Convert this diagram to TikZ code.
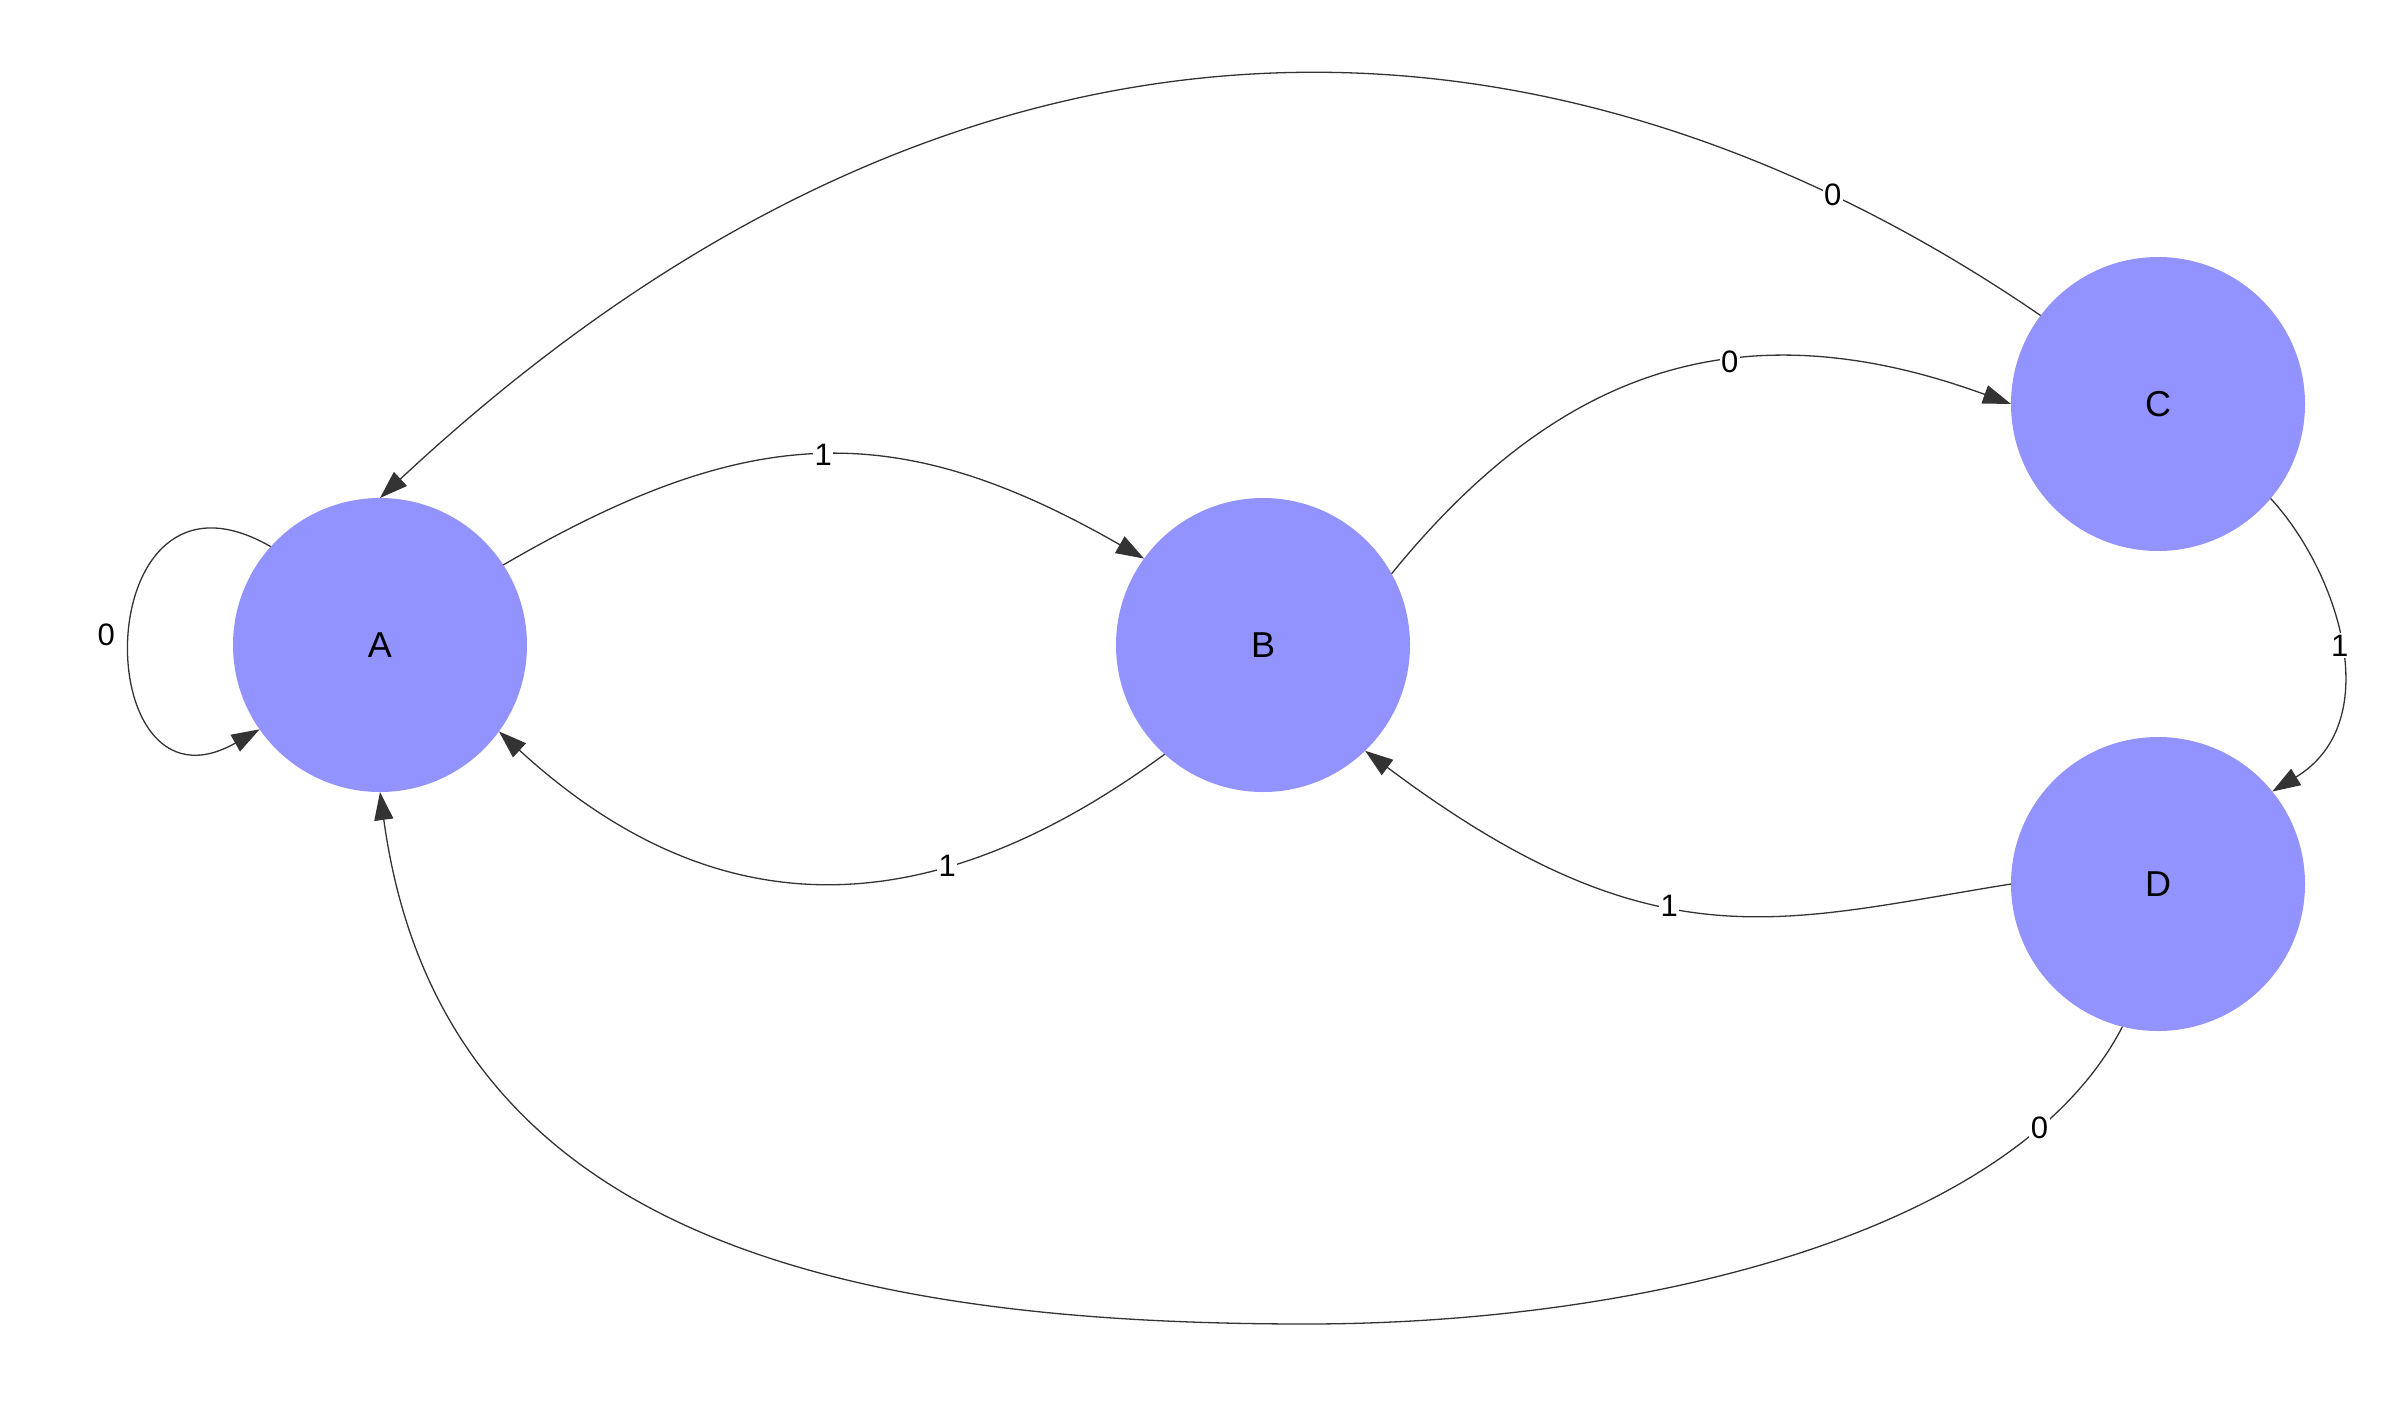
\documentclass[tikz,border=0pt]{standalone}
\usepackage{fontspec}
\setmainfont{Liberation Sans}
\usetikzlibrary{arrows.meta}
\definecolor{nodefill}{RGB}{147,147,255}
\definecolor{edgecol}{RGB}{51,51,51}
\begin{document}
\begin{tikzpicture}[x=1pt,y=-1pt,
  state/.style={circle, fill=nodefill, minimum size=294pt, inner sep=0pt, outer sep=0pt,
    font=\fontsize{36}{40}\selectfont},
  edge/.style={draw=edgecol, line width=1.3pt, -{Triangle[length=28pt,width=19pt]}},
  lbl/.style={fill=white, inner sep=1.5pt, font=\fontsize{31}{34}\selectfont},
  looplbl/.style={font=\fontsize{31}{34}\selectfont}]
\useasboundingbox (0,0) rectangle (2399,1402);
\node[state] (A) at (380,645) {A};
\node[state] (B) at (1263,645) {B};
\node[state] (C) at (2158,404) {C};
\node[state] (D) at (2158,884) {D};
% A -> A
\draw[edge] (A.138) .. controls (86,440) and (86,828) .. (A.215)
  node[looplbl, pos=0.5, left=12pt] {0};
% A -> B
\draw[edge] (A.33.5) .. controls (749,422) and (897,417) .. (B.144.3)
  node[lbl, pos=0.5] {1};
% B -> A
\draw[edge] (B.228.3) .. controls (955,908) and (736,949) .. (A.324)
  node[lbl, pos=0.34] {1};
% B -> C
\draw[edge] (B.29) .. controls (1550,379) and (1729,301) .. (C.west)
  node[lbl, pos=0.62] {0};
% C -> A
\draw[edge] (C.143.6) .. controls (1601,14) and (1005,-85) .. (A.north)
  node[lbl, pos=0.15] {0};
% C -> D
\draw[edge] (C.320.4) .. controls (2337,570) and (2388,721) .. (D.39.9)
  node[lbl, pos=0.5] {1};
% D -> B
\draw[edge] (D.west) .. controls (1780,921) and (1655,968) .. (B.314.5)
  node[lbl, pos=0.57] {1};
% D -> A
\draw[edge] (D.256.6) .. controls (2014,1236) and (1636,1324) .. (1306,1324)
  node[lbl, pos=0.18] {0}
  .. controls (826,1324) and (440,1230) .. (A.south);
\end{tikzpicture}
\end{document}
